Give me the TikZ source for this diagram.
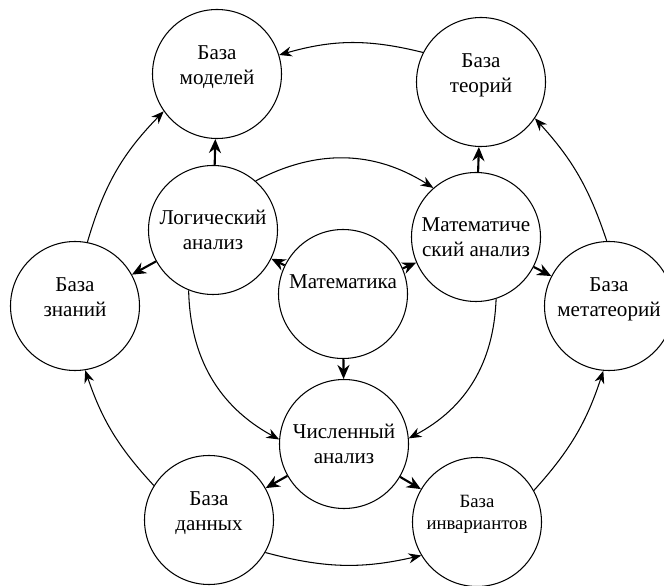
\documentclass[tikz,border=0pt]{standalone}
\usepackage{fontspec}
\setmainfont{Liberation Serif}
\usetikzlibrary{arrows.meta}

\newcommand{\uptxt}[2]{\raisebox{#1}[\height][\depth]{\begin{tabular}{@{}c@{}}#2\end{tabular}}}

\begin{document}
\begin{tikzpicture}[
  ball/.style={draw, circle, line width=0.9pt, minimum size=3.87cm, inner sep=0pt,
    font=\fontsize{18}{21.3}\selectfont, align=center},
  link/.style={line width=0.9pt, -{Stealth[length=0.38cm, width=0.3cm]}},
  stub/.style={line width=1.8pt, -{Stealth[length=0.42cm, width=0.36cm]}}
]
\useasboundingbox (0,0) rectangle (19.92,17.55);
% Outer ring of bases
\node[ball] (mod) at (6.51,15.33) {\uptxt{0.2cm}{База\\моделей}};
\node[ball] (teor) at (14.43,15.09) {\uptxt{0.2cm}{База\\теорий}};
\node[ball] (zn) at (2.25,8.37) {\uptxt{0.2cm}{База\\знаний}};
\node[ball] (meta) at (18.27,8.37) {\uptxt{0.2cm}{База\\метатеорий}};
\node[ball] (dan) at (6.27,1.95) {\uptxt{0.2cm}{База\\данных}};
\node[ball, font=\fontsize{16}{19.5}\selectfont] (inv) at (14.31,1.89) {\uptxt{0.24cm}{База\\инвариантов}};
% Inner nodes
\node[ball] (log) at (6.39,10.65) {Логический\\анализ};
\node[ball] (man) at (14.28,10.44) {Математиче\\ский анализ};
\node[ball] (mat) at (10.29,8.73) {\uptxt{0.32cm}{Математика}};
\node[ball] (chis) at (10.32,4.23) {Численный\\анализ};
% Arcs between the bases
\draw[link] (teor.153) to[bend right=15] (mod.17);
\draw[link] (zn.79) to[bend left=14] (mod.215);
\draw[link] (dan.148) to[bend left=12] (zn.279);
\draw[link] (dan.330) to[bend right=14] (inv.211);
\draw[link] (inv.29) to[bend right=12] (meta.265);
\draw[link] (meta.92) to[bend right=12] (teor.326);
% Arcs between the analyses
\draw[link] (log.49) to[bend left=30] (man.131);
\draw[link] (log.248) to[bend right=30] (chis.176);
\draw[link] (man.288) to[bend left=30] (chis.5);
% Short thick arrows
\draw[stub] (log) -- (mod);
\draw[stub] (log) -- (zn);
\draw[stub] (man) -- (teor);
\draw[stub] (man) -- (meta);
\draw[stub] (mat) -- (log);
\draw[stub] (mat) -- (man);
\draw[stub] (mat) -- (chis);
\draw[stub] (chis) -- (dan);
\draw[stub] (chis) -- (inv);
\end{tikzpicture}
\end{document}
